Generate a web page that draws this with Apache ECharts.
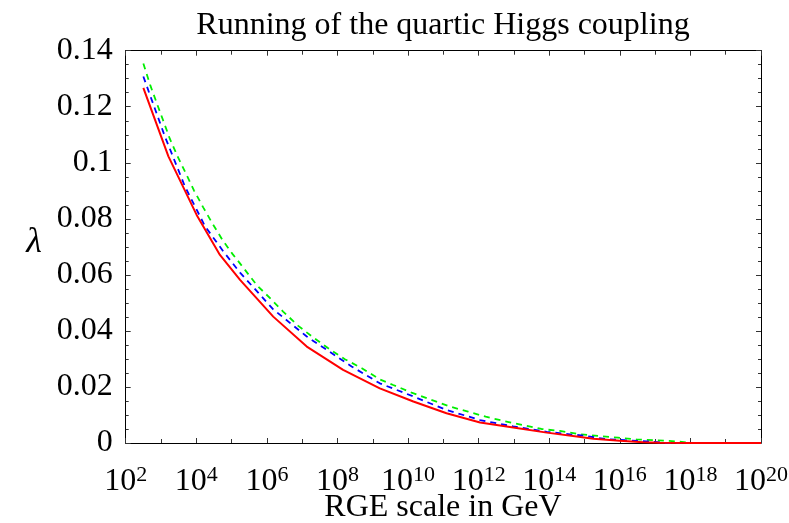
<!DOCTYPE html>
<html>
<head>
<meta charset="utf-8">
<script src="https://cdn.jsdelivr.net/npm/echarts@6/dist/echarts.min.js"></script>
<style>html,body{margin:0;padding:0;background:#fff;}#c{width:789px;height:523px;}</style>
</head>
<body>
<div id="c"></div>
<script>
// x values are log10(mu / GeV)
const redX   = [2.5, 3.21, 4.01, 4.67, 5.24, 6.18, 7.13, 8.16, 9.2, 10.15, 11.09, 12.04, 12.98, 13.93, 14.78, 15.25, 16.0, 16.66, 17.14, 18, 19, 20];
const redY   = [0.1267, 0.1023, 0.0814, 0.0671, 0.0582, 0.0451, 0.0344, 0.0261, 0.0195, 0.0148, 0.0106, 0.0073, 0.0055, 0.0037, 0.0023, 0.0015, 0.0008, 0.0003, 0.0001, 0, 0, 0];
const blueX  = [2.5, 3.11, 3.68, 4.25, 4.77, 5.24, 6.18, 7.13, 8.4, 9.2, 10.15, 11.09, 12.04, 12.98, 13.93, 14.59, 15.0, 15.6, 16.15, 16.76, 17.3, 18.5, 20];
const blueY  = [0.1308, 0.1094, 0.0915, 0.0773, 0.0683, 0.0608, 0.0477, 0.0380, 0.0273, 0.0213, 0.0166, 0.0118, 0.0082, 0.0059, 0.0040, 0.0031, 0.0026, 0.0014, 0.0010, 0.0006, 0, 0, 0];
const greenX = [2.5, 2.69, 2.88, 3.07, 3.25, 3.47, 3.70, 3.94, 4.20, 4.45, 4.74, 5.03, 5.38, 5.71, 6.12, 6.46, 6.89, 7.31, 7.74, 8.21, 8.69, 9.2, 9.58, 10.1, 10.66, 11.19, 11.7, 12.2, 12.7, 13.26, 13.78, 14.3, 14.82, 15.39, 15.95, 16.47, 17.04, 17.56, 18.08, 19, 20];
const greenY = [0.1354, 0.1279, 0.1213, 0.1148, 0.1086, 0.1023, 0.0963, 0.0900, 0.0840, 0.0785, 0.0725, 0.0674, 0.0618, 0.0564, 0.0513, 0.0469, 0.0418, 0.0377, 0.0338, 0.0299, 0.0267, 0.0227, 0.0207, 0.0180, 0.0154, 0.0130, 0.0112, 0.0094, 0.0079, 0.0064, 0.0050, 0.0043, 0.0032, 0.0025, 0.0019, 0.0013, 0.0010, 0.0006, 0, 0, 0];
const xExponents = [2, 4, 6, 8, 10, 12, 14, 16, 18, 20];
const yTicks = [0, 0.02, 0.04, 0.06, 0.08, 0.1, 0.12, 0.14];
const titleText = 'Running of the quartic Higgs coupling';
const xName = 'RGE scale in GeV';
const yName = 'λ';

const FONT = '"Liberation Serif", "DejaVu Serif", serif';
const zip = (xs, ys) => xs.map((x, i) => [x, ys[i]]);

const chart = echarts.init(document.getElementById('c'), null, {renderer: 'canvas'});
const tickLine = {color: '#333', width: 1};
const baseX = {
  type: 'value', min: xExponents[0], max: xExponents[xExponents.length - 1], interval: 2,
  axisLine: {show: true, onZero: false, lineStyle: {color: '#000', width: 1}},
  axisTick: {show: true, inside: true, length: 5, lineStyle: tickLine},
  minorTick: {show: true, splitNumber: 2, length: 4, lineStyle: tickLine},
  splitLine: {show: false}, minorSplitLine: {show: false}
};
const baseY = {
  type: 'value', min: yTicks[0], max: yTicks[yTicks.length - 1], interval: 0.02,
  axisLine: {show: true, onZero: false, lineStyle: {color: '#000', width: 1}},
  axisTick: {show: true, inside: true, length: 5, lineStyle: tickLine},
  minorTick: {show: true, splitNumber: 4, length: 3, lineStyle: tickLine},
  splitLine: {show: false}, minorSplitLine: {show: false}
};

chart.setOption({
  animation: false,
  backgroundColor: '#fff',
  grid: {left: 125.7, right: 28, top: 50.7, bottom: 80, containLabel: false, outerBoundsMode: 'none'},
  xAxis: [
    Object.assign({}, baseX, {
      position: 'bottom',
      axisLabel: {
        show: true, margin: 21, color: '#000',
        formatter: v => '{b|10}{s|' + Math.round(v) + '}',
        rich: {
          b: {fontFamily: FONT, fontSize: 32, color: '#000'},
          s: {fontFamily: FONT, fontSize: 22, color: '#000', verticalAlign: 'top', padding: [0, 0, 14, 0]}
        }
      }
    }),
    Object.assign({}, baseX, {position: 'top', axisLabel: {show: false}})
  ],
  yAxis: [
    Object.assign({}, baseY, {
      position: 'left',
      axisLabel: {
        show: true, margin: 13, color: '#000', fontFamily: FONT, fontSize: 32,
        formatter: v => String(Number(v.toFixed(2)))
      }
    }),
    Object.assign({}, baseY, {position: 'right', axisLabel: {show: false}})
  ],
  graphic: [
    {type: 'text', x: 443, y: 10, style: {text: titleText, fontFamily: FONT, fontSize: 32, fill: '#000', textAlign: 'center', textVerticalAlign: 'top'}},
    {type: 'text', x: 443, y: 508, style: {text: xName, fontFamily: FONT, fontSize: 32, fill: '#000', textAlign: 'center', textVerticalAlign: 'middle'}},
    {type: 'text', x: 34, y: 243, style: {text: yName, fontFamily: FONT, fontStyle: 'italic', fontSize: 36, fill: '#000', textAlign: 'center', textVerticalAlign: 'middle'}}
  ],
  series: [
    {type: 'line', data: zip(greenX, greenY), symbol: 'none', clip: true, z: 2,
     lineStyle: {color: '#00ee00', width: 1.8, type: [6, 5]}},
    {type: 'line', data: zip(blueX, blueY), symbol: 'none', clip: true, z: 3,
     lineStyle: {color: '#0000ff', width: 1.8, type: [6, 5]}},
    {type: 'line', data: zip(redX, redY), symbol: 'none', clip: true, z: 4,
     lineStyle: {color: '#ff0000', width: 2, type: 'solid'}}
  ]
});
</script>
</body>
</html>
